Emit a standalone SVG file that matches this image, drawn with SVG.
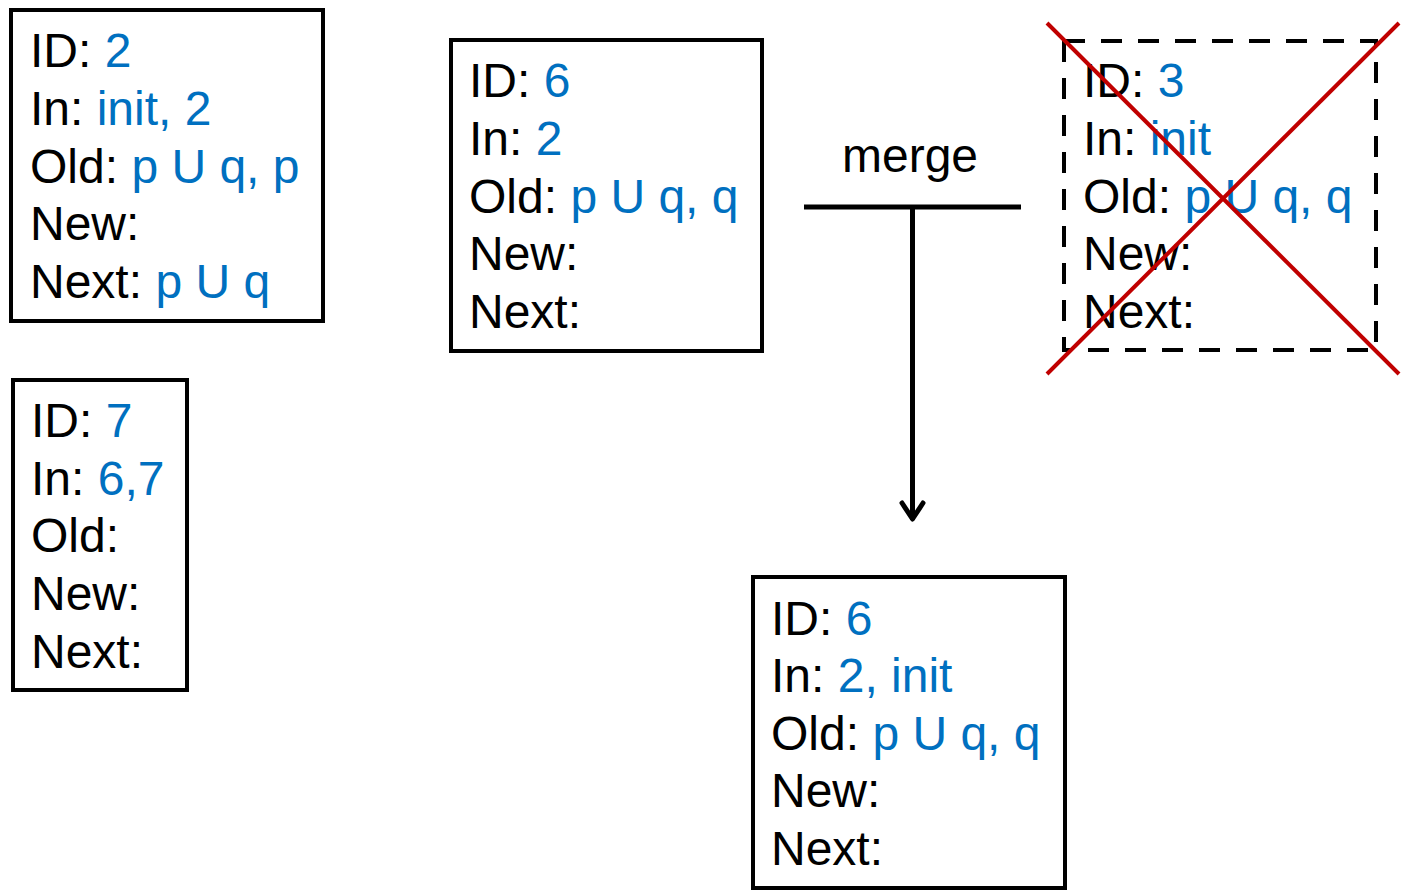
<svg xmlns="http://www.w3.org/2000/svg" width="1402" height="894" viewBox="0 0 1402 894">
<style>
text{font-family:"Liberation Sans",Arial,sans-serif;font-size:48px;fill:#000}
.v{fill:#0070C0}
.box{fill:#fff;stroke:#000;stroke-width:4}
.dash{fill:none;stroke:#000;stroke-width:4;stroke-dasharray:21 16}
.cross{stroke:#C00000;stroke-width:4;fill:none}
.conn{stroke:#000;stroke-width:5;fill:none}
</style>
<g id="node2">
<rect class="box" x="11" y="10" width="312" height="311"/>
<text x="30" y="67">ID: <tspan class="v">2</tspan></text>
<text x="30" y="125">In: <tspan class="v">init, 2</tspan></text>
<text x="30" y="183">Old: <tspan class="v">p U q, p</tspan></text>
<text x="30" y="240">New:</text>
<text x="30" y="298">Next: <tspan class="v">p U q</tspan></text>
</g>
<g id="node7">
<rect class="box" x="13" y="380" width="174" height="310"/>
<text x="31" y="437">ID: <tspan class="v">7</tspan></text>
<text x="31" y="495">In: <tspan class="v">6,7</tspan></text>
<text x="31" y="552">Old:</text>
<text x="31" y="610">New:</text>
<text x="31" y="668">Next:</text>
</g>
<g id="node6">
<rect class="box" x="451" y="40" width="311" height="311"/>
<text x="469" y="97">ID: <tspan class="v">6</tspan></text>
<text x="469" y="155">In: <tspan class="v">2</tspan></text>
<text x="469" y="213">Old: <tspan class="v">p U q, q</tspan></text>
<text x="469" y="270">New:</text>
<text x="469" y="328">Next:</text>
</g>
<g id="node3">
<rect class="dash" x="1064" y="41" width="312" height="309"/>
<text x="1083" y="97">ID: <tspan class="v">3</tspan></text>
<text x="1083" y="155">In: <tspan class="v">init</tspan></text>
<text x="1083" y="213">Old: <tspan class="v">p U q, q</tspan></text>
<text x="1083" y="270">New:</text>
<text x="1083" y="328">Next:</text>
<line class="cross" x1="1047" y1="23" x2="1399" y2="374"/>
<line class="cross" x1="1399" y1="23" x2="1047" y2="374"/>
</g>
<g id="node6merged">
<rect class="box" x="753" y="577" width="312" height="311"/>
<text x="771" y="635">ID: <tspan class="v">6</tspan></text>
<text x="771" y="692">In: <tspan class="v">2, init</tspan></text>
<text x="771" y="750">Old: <tspan class="v">p U q, q</tspan></text>
<text x="771" y="807">New:</text>
<text x="771" y="865">Next:</text>
</g>
<g id="connectors">
<text x="910" y="172" text-anchor="middle">merge</text>
<line class="conn" x1="804" y1="207" x2="1021" y2="207"/>
<line class="conn" x1="912.5" y1="207" x2="912.5" y2="520" stroke-width="4"/>
<polyline class="conn" points="902,503 912.5,519 923,503" stroke-width="4" stroke-linecap="round" stroke-linejoin="round"/>
</g>
</svg>
